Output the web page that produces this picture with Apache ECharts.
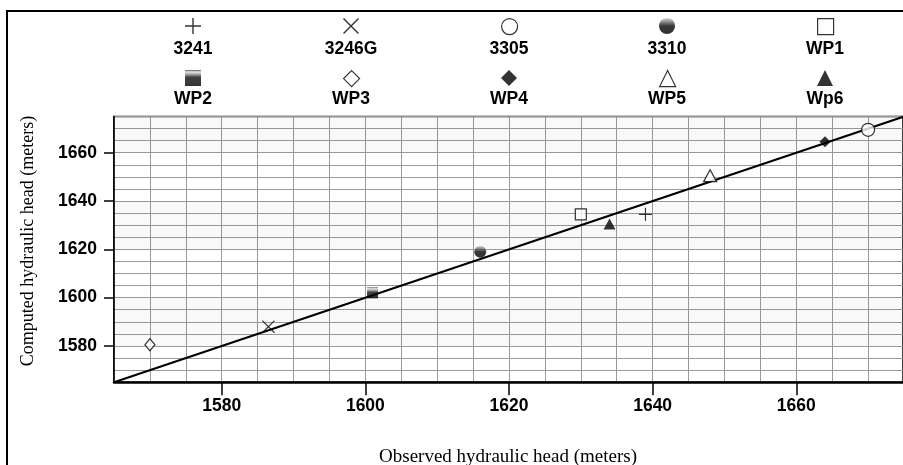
<!DOCTYPE html>
<html>
<head>
<meta charset="utf-8">
<script src="https://cdn.jsdelivr.net/npm/echarts@6/dist/echarts.min.js"></script>
<style>
html,body{margin:0;padding:0;background:#fff;}
#chart{width:903px;height:465px;}
</style>
</head>
<body>
<div id="chart"></div>
<script>
// ---- data ----
const categories = ['3241', '3246G', '3305', '3310', 'WP1', 'WP2', 'WP3', 'WP4', 'WP5', 'Wp6'];
const observedHead = [1639, 1586.5, 1670, 1616, 1630, 1601, 1570, 1664, 1648, 1634];
const computedHead = [1634.5, 1588, 1669.5, 1619, 1634.5, 1602, 1580.5, 1664.5, 1650.5, 1630.5];
const oneToOneLine = [1565, 1675];
const majorTicks = [1580, 1600, 1620, 1640, 1660];
const shadedBands = [[1660, 1675], [1620, 1640], [1580, 1600]];
const xTitle = 'Observed hydraulic head (meters)';
const yTitle = 'Computed hydraulic head (meters)';

// ---- styles ----
const PLUS = 'path://M7.3,0H8.7V16H7.3Z M0,7.3H16V8.7H0Z';
const CROSS = 'path://M0,1L1,0L16,15L15,16Z M15,0L16,1L1,16L0,15Z';
const sphere = {type:'linear', x:0, y:0, x2:0, y2:1, colorStops:[
  {offset:0, color:'#d0d0d0'}, {offset:0.3, color:'#555'}, {offset:0.5, color:'#050505'}, {offset:1, color:'#000'}]};
const boxGrad = {type:'linear', x:0, y:0, x2:0, y2:1, colorStops:[
  {offset:0, color:'#333'}, {offset:0.12, color:'#e0e0e0'}, {offset:0.28, color:'#8a8a8a'}, {offset:0.45, color:'#111'}, {offset:1, color:'#000'}]};
const hollow = {color:'#fff', borderColor:'#000', borderWidth:1.2};
const solid = {color:'#000', borderWidth:0};
const markerStyle = {
  '3241':  {symbol: PLUS, size: 13, style: solid},
  '3246G': {symbol: CROSS, size: 13, style: solid},
  '3305':  {symbol: 'circle', size: 13, style: hollow},
  '3310':  {symbol: 'circle', size: 12, style: {color: sphere, borderWidth:0}},
  'WP1':   {symbol: 'rect', size: 11, style: hollow},
  'WP2':   {symbol: 'rect', size: 11, style: {color: boxGrad, borderWidth:0}},
  'WP3':   {symbol: 'diamond', size: [10, 12], style: hollow},
  'WP4':   {symbol: 'diamond', size: [11, 11], style: solid},
  'WP5':   {symbol: 'triangle', size: [13, 12], style: hollow},
  'Wp6':   {symbol: 'triangle', size: [12, 11], style: solid}
};

const colCenters = [193, 351, 509, 667, 825];
const rowIconY = [26, 78];
const rowLabelY = [49, 99];

const chart = echarts.init(document.getElementById('chart'), null, {renderer:'canvas'});

const scatterSeries = categories.map((name, i) => ({
  name: name,
  type: 'scatter',
  xAxisIndex: 0, yAxisIndex: 0,
  symbol: markerStyle[name].symbol,
  symbolSize: markerStyle[name].size,
  itemStyle: markerStyle[name].style,
  data: [[observedHead[i], computedHead[i]]],
  z: 5,
  silent: true
}));

const legends = categories.map((name, i) => {
  const col = i % 5, row = Math.floor(i / 5);
  return {
    data: [{name: name, icon: markerStyle[name].symbol, itemStyle: markerStyle[name].style}],
    left: colCenters[col] - 8,
    top: rowIconY[row] - 8,
    itemWidth: 16, itemHeight: 16,
    padding: 0,
    formatter: () => '',
    selectedMode: false
  };
});

const labelGraphics = categories.map((name, i) => {
  const col = i % 5, row = Math.floor(i / 5);
  return {
    type: 'text', x: colCenters[col], y: rowLabelY[row],
    style: {text: name, fill:'#000', font:'bold 17.5px "Liberation Sans", Arial, sans-serif',
      textAlign:'center', textVerticalAlign:'middle'}
  };
});

const axisRange = {min: 1565, max: 1674.86};
const tickFont = {fontSize: 17.5, fontWeight: 'bold', color:'#000', fontFamily: '"Liberation Sans", Arial, sans-serif',
  formatter: v => String(v)};

chart.setOption({
  animation: false,
  backgroundColor: '#fff',
  grid: {left: 114, top: 116.5, right: -2, bottom: 82.8, show: true, borderColor:'#000', borderWidth:1.5, backgroundColor:'#fff'},
  legend: legends,
  xAxis: [
    Object.assign({type:'value', interval:5, position:'bottom',
      axisLine:{show:false}, axisTick:{show:false}, axisLabel:{show:false},
      splitLine:{show:true, lineStyle:{color:'#9a9a9a', width:1}}}, axisRange),
    Object.assign({type:'value', position:'bottom',
      axisLine:{show:true, onZero:false, lineStyle:{color:'#000', width:2.5}},
      axisTick:{show:true, customValues: majorTicks, length:13, lineStyle:{color:'#000', width:1.5}},
      axisLabel:Object.assign({customValues: majorTicks, margin:15}, tickFont),
      splitLine:{show:false}}, axisRange)
  ],
  yAxis: [
    Object.assign({type:'value', interval:5, position:'left',
      axisLine:{show:false}, axisTick:{show:false}, axisLabel:{show:false},
      splitLine:{show:true, lineStyle:{color:'#9a9a9a', width:1}}}, {min:1565, max:1675}),
    Object.assign({type:'value', position:'left',
      axisLine:{show:true, onZero:false, lineStyle:{color:'#000', width:1.5}},
      axisTick:{show:true, customValues: majorTicks, length:10, lineStyle:{color:'#000', width:1.5}},
      axisLabel:Object.assign({customValues: majorTicks, margin:17}, tickFont),
      splitLine:{show:false}}, {min:1565, max:1675})
  ],
  series: [
    {
      name: '1:1',
      type: 'line',
      xAxisIndex: 0, yAxisIndex: 0,
      data: oneToOneLine.map(v => [v, v]),
      symbol: 'none',
      lineStyle: {color:'#000', width:2},
      z: 3,
      silent: true,
      markArea: {
        silent: true,
        itemStyle: {color:'rgba(0,0,0,0.025)'},
        data: shadedBands.map(b => [{yAxis: b[0]}, {yAxis: b[1]}])
      }
    }
  ].concat(scatterSeries),
  graphic: [
    {type:'rect', shape:{x:7, y:11, width:1000, height:500}, style:{fill:'none', stroke:'#000', lineWidth:2}, z:100},
    {type:'text', x:28, y:241, rotation: Math.PI/2,
      style:{text: yTitle, fill:'#000', font:'18px "Liberation Serif", "Times New Roman", serif', textAlign:'center', textVerticalAlign:'middle'}},
    {type:'text', x:508, y:457,
      style:{text: xTitle, fill:'#000', font:'19px "Liberation Serif", "Times New Roman", serif', textAlign:'center', textVerticalAlign:'middle'}}
  ].concat(labelGraphics)
});
</script>
</body>
</html>
